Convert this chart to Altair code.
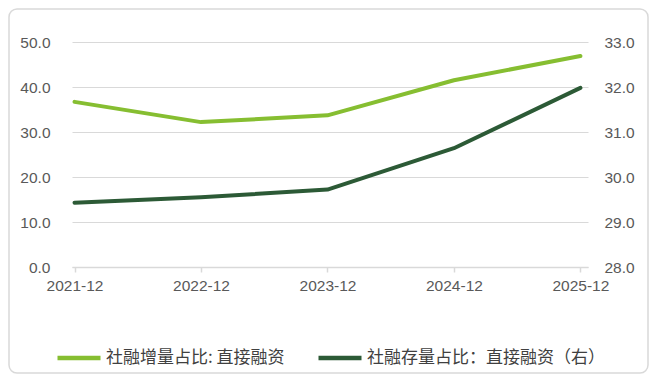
import json
import altair as alt
import pandas as pd

dates = ["2021-12", "2022-12", "2023-12", "2024-12", "2025-12"]
flow_share = [36.7, 32.2, 33.7, 41.5, 46.9]      # 社融增量占比: 直接融资 (left axis)
stock_share = [29.43, 29.55, 29.72, 30.64, 31.98]  # 社融存量占比：直接融资 (right axis)
s1 = "社融增量占比: 直接融资"
s2 = "社融存量占比：直接融资（右）"
left_ticks = [0, 10, 20, 30, 40, 50]
right_ticks = [28, 29, 30, 31, 32, 33]

df1 = pd.DataFrame({"idx": list(range(len(dates))), "date": dates, "value": flow_share, "series": s1})
df2 = pd.DataFrame({"idx": list(range(len(dates))), "date": dates, "value": stock_share, "series": s2})

W, H = 516, 225
num_font = "Liberation Sans"
cjk_font = "Noto Sans CJK SC"
tick_fs = 15.5

label_expr = json.dumps(dates) + "[datum.value]"

x_enc = alt.X(
    "idx:Q",
    scale=alt.Scale(domain=[-0.02, 4.06], nice=False, zero=False),
    axis=alt.Axis(
        values=list(range(len(dates))), labelExpr=label_expr, title=None, grid=False,
        domainColor="#d9d9d9", domainWidth=1.5, tickColor="#d9d9d9", tickWidth=1.5, tickSize=5,
        labelFont=num_font, labelFontSize=tick_fs, labelColor="#595959", labelPadding=6,
    ),
)

color_enc = alt.Color(
    "series:N",
    scale=alt.Scale(domain=[s1, s2], range=["#86BE31", "#2C5A36"]),
    legend=alt.Legend(
        title=None, orient="none", legendX=-17, legendY=292, direction="horizontal",
        symbolType="stroke", symbolSize=1849, symbolStrokeWidth=4.5,
        labelFont=cjk_font, labelFontSize=17, labelColor="#404040",
        columnPadding=24, labelOffset=3, labelLimit=0,
    ),
)

line1 = alt.Chart(df1).mark_line(strokeWidth=4, strokeCap="round", strokeJoin="round").encode(
    x=x_enc,
    y=alt.Y(
        "value:Q",
        scale=alt.Scale(domain=[0, 50], nice=False),
        axis=alt.Axis(
            values=left_ticks, format=".1f", title=None, domain=False, ticks=False,
            grid=True, gridColor="#d9d9d9", gridWidth=1.2,
            labelFont=num_font, labelFontSize=tick_fs, labelColor="#595959", labelPadding=22,
        ),
    ),
    color=color_enc,
)

line2 = alt.Chart(df2).mark_line(strokeWidth=4, strokeCap="round", strokeJoin="round").encode(
    x=x_enc,
    y=alt.Y(
        "value:Q",
        scale=alt.Scale(domain=[28, 33], nice=False, zero=False),
        axis=alt.Axis(
            values=right_ticks, format=".1f", title=None, orient="right", domain=False,
            ticks=False, grid=False,
            labelFont=num_font, labelFontSize=tick_fs, labelColor="#595959", labelPadding=16,
        ),
    ),
    color=color_enc,
)

frame = alt.Chart(alt.Data(values=[{}])).mark_rect(
    fill=None, stroke="#d9d9d9", strokeWidth=1.5, cornerRadius=8
).encode(
    x=alt.value(-63), x2=alt.value(W + 60),
    y=alt.value(-33), y2=alt.value(H + 106),
)

chart = (
    alt.layer(frame, line1, line2)
    .resolve_scale(y="independent")
    .properties(
        width=W, height=H,
        autosize=alt.AutoSizeParams(type="none"),
        padding={"left": 64, "top": 34, "right": 62, "bottom": 110},
        background="white",
    )
    .configure_view(stroke=None)
)

chart.save("out.html", embed_options={"renderer": "svg", "actions": False})
